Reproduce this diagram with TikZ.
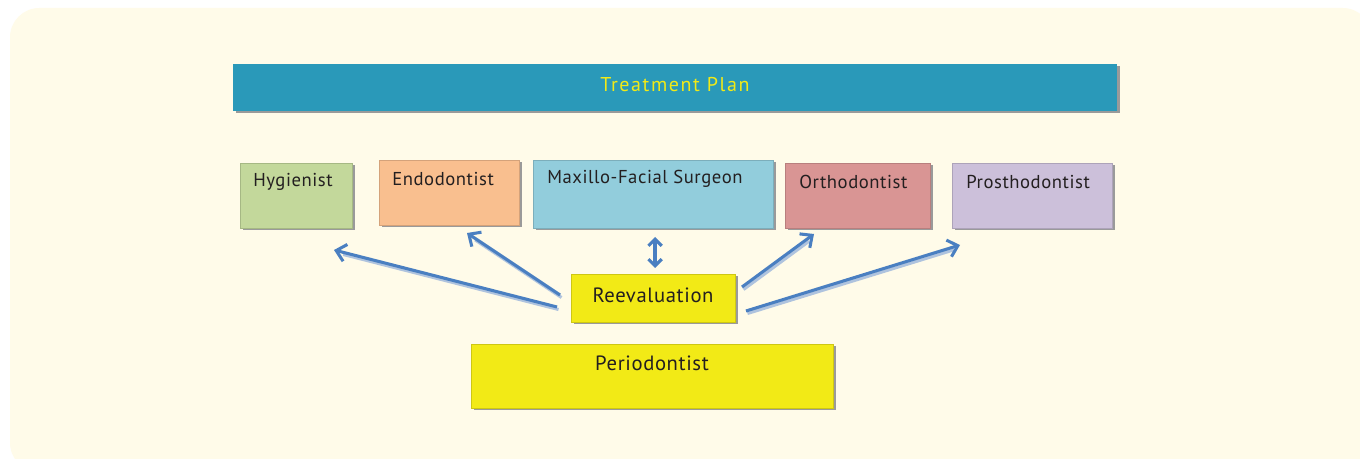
\documentclass[tikz,border=0pt]{standalone}
\usepackage{fontspec}
\setmainfont{PT Sans}[LetterSpace=3]
\usetikzlibrary{arrows.meta,calc}
\definecolor{bgc}{HTML}{FFFBE9}
\definecolor{tpblue}{HTML}{2A99B9}
\definecolor{tpyel}{HTML}{F2EA16}
\definecolor{hyg}{HTML}{C3D89B}
\definecolor{endo}{HTML}{F9BF8F}
\definecolor{maxi}{HTML}{92CDDC}
\definecolor{orth}{HTML}{D99594}
\definecolor{pros}{HTML}{CCC0DA}
\definecolor{arr}{HTML}{4A7FC1}
\definecolor{arrsh}{HTML}{AFC3DE}
\definecolor{txt}{HTML}{231F20}
\definecolor{shd}{HTML}{9A9A9A}
\newfontfamily\tpfont{PT Sans}[LetterSpace=8]
\tikzset{
  boxbase/.style={inner sep=0pt, outer sep=0pt, anchor=north west},
  tbox/.style={boxbase, fill=#1, draw=#1!85!black, line width=0.4pt},
  lbl/.style={anchor=west, text=txt, font=\fontsize{14}{16}\selectfont, inner sep=0pt},
  big/.style={anchor=center, font=\fontsize{15.5}{17}\selectfont},
  conn/.style={draw=arr, line width=2.3pt, -{Straight Barb[length=7pt,width=13pt,line width=2.3pt]}},
  conn2/.style={draw=arr, line width=2.3pt, {Straight Barb[length=5pt,width=10pt,line width=2.3pt]}-{Straight Barb[length=5pt,width=10pt,line width=2.3pt]}},
  connsh/.style={draw=arrsh, line width=2.3pt}
}
\begin{document}
\begin{tikzpicture}[x=0.75pt,y=-0.75pt]
\useasboundingbox (0,0) rectangle (1360,459);
\fill[white] (0,0) rectangle (1360,459);
\fill[bgc, rounded corners=22pt] (10,8) rectangle (1372,472);
% shadows
\foreach \a/\b/\c/\d in {233/64/1117/111, 240/163/352/228, 379/160/519/225, 533/160/773/228, 785/163/930/228, 952/163/1112/228, 571/274/735/322, 471/344/833/408}
  \fill[shd] (\a+2.5,\b+2.5) rectangle (\c+2.5,\d+2.5);
% boxes
\path[fill=tpblue] (233,64) rectangle (1117,111);
\node[inner sep=0pt, text=tpyel, font=\tpfont\fontsize{15}{17}\selectfont] (tp) at (675,85) {Treatment Plan};
\path[tbox=hyg] (240,163) rectangle (352,228);
\node[lbl] (hy) at (253,182) {Hygienist};
\path[tbox=endo] (379,160) rectangle (519,225);
\node[lbl] (en) at (392,179) {Endodontist};
\path[tbox=maxi] (533,160) rectangle (773,228);
\node[lbl] (mx) at (547,179) {Maxillo-Facial Surgeon};
\path[tbox=orth] (785,163) rectangle (930,228);
\node[lbl] (or) at (799,182) {Orthodontist};
\path[tbox=pros] (952,163) rectangle (1112,228);
\node[lbl] (pr) at (966,182) {Prosthodontist};
\path[tbox=tpyel] (571,274) rectangle (735,322);
\node[lbl, big] (re) at (653,295) {Reevaluation};
\path[tbox=tpyel] (471,344) rectangle (833,408);
\node[lbl, big] (pe) at (652,363) {Periodontist};
% arrow endpoints
\coordinate (s1) at (557,307); \coordinate (e1) at (334,250);
\coordinate (s2) at (560,295); \coordinate (e2) at (467,233);
\coordinate (s3) at (655,268); \coordinate (e3) at (655,237);
\coordinate (s4) at (742,287); \coordinate (e4) at (814,234);
\coordinate (s5) at (746,311); \coordinate (e5) at (960,245);
% arrow shadows
\foreach \s/\e in {s1/e1,s2/e2,s4/e4,s5/e5}
  \draw[connsh, shorten >=6pt] ($(\s)+(1.5,2.5)$) -- ($(\e)+(1.5,2.5)$);
% arrows
\draw[conn] (s1) -- (e1);
\draw[conn] (s2) -- (e2);
\draw[conn2] (s3) -- (e3);
\draw[conn] (s4) -- (e4);
\draw[conn] (s5) -- (e5);
\end{tikzpicture}
\end{document}
